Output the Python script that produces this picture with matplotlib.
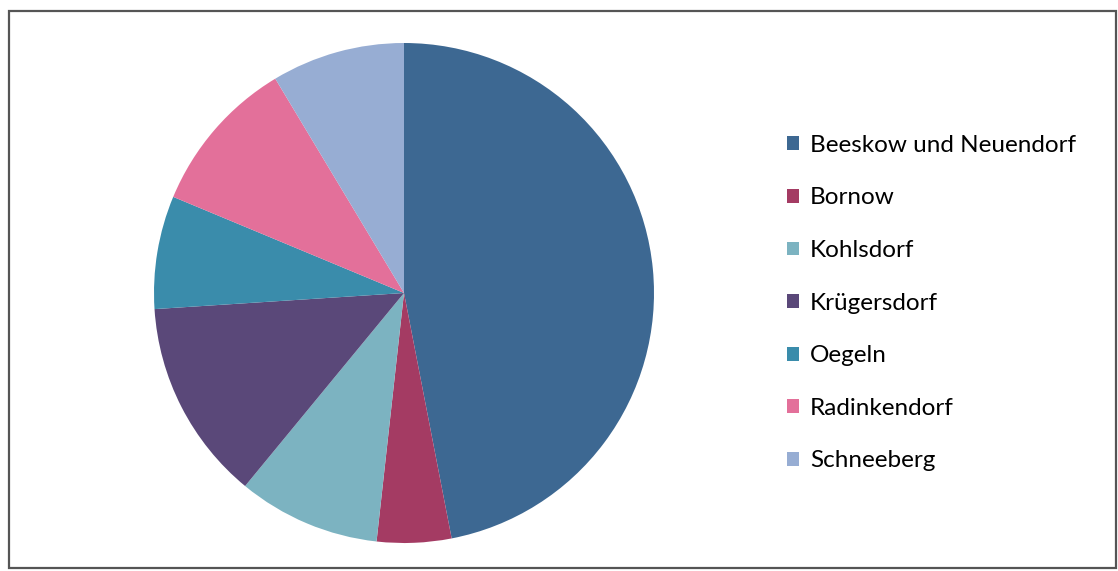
import matplotlib.pyplot as plt
from matplotlib.patches import Rectangle

plt.rcParams['font.family'] = ['Lato', 'DejaVu Sans']

orte = ['Beeskow und Neuendorf', 'Bornow', 'Kohlsdorf', 'Krügersdorf',
        'Oegeln', 'Radinkendorf', 'Schneeberg']
anteile = [46.9, 4.8, 9.2, 13.0, 7.3, 10.1, 8.6]
farben = ['#3d6892', '#a43b63', '#7cb3c1', '#5a4879', '#3a8cab', '#e3709a', '#97add3']

W, H = 1118, 571
fig = plt.figure(figsize=(W / 100, H / 100), dpi=100)

# frame round the chart
fig.patches.append(Rectangle((9 / W, 3 / H), 1107 / W, 557 / H,
                             transform=fig.transFigure, fill=False,
                             edgecolor='#555555', linewidth=1.6))

cx, cy, r = 404, 293, 250
ax = fig.add_axes([(cx - r) / W, (H - cy - r) / H, 2 * r / W, 2 * r / H])
wedges, _ = ax.pie(anteile, colors=farben, startangle=90, counterclock=False,
                   radius=1, wedgeprops=dict(linewidth=0))
ax.set_xlim(-1, 1)
ax.set_ylim(-1, 1)
ax.set_aspect('equal')
ax.axis('off')

leg = fig.legend(wedges, orte, loc='upper left',
                 bbox_to_anchor=(765 / W, 1 - 113 / H),
                 frameon=False, fontsize=17.5, handlelength=0.5,
                 handleheight=0.5, handletextpad=0.45, labelspacing=1.3)

fig.savefig('out.png', dpi=100)
